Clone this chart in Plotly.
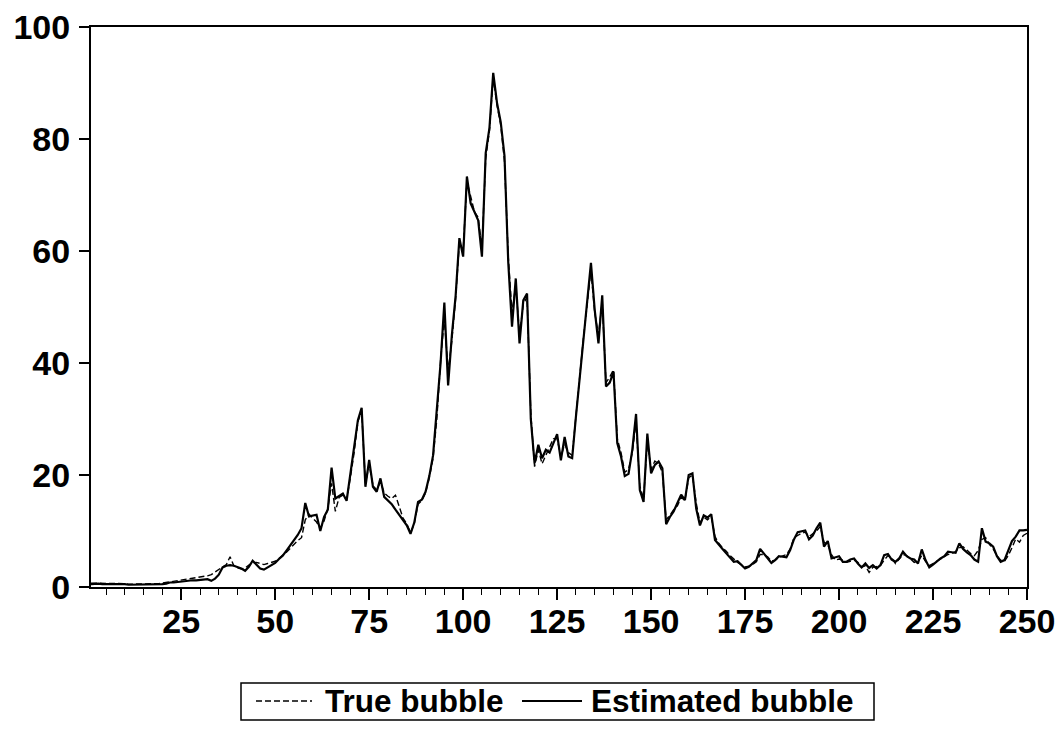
import plotly.graph_objects as go

periods = list(range(1, 251))

estimated_bubble = [
    0.5, 0.6, 0.6, 0.5, 0.5, 0.6, 0.6, 0.5, 0.5, 0.5,
    0.4, 0.4, 0.5, 0.4, 0.4, 0.5, 0.5, 0.4, 0.5, 0.5,
    0.6, 0.8, 0.8, 0.9, 1.0, 1.0, 1.1, 1.2, 1.2, 1.3,
    1.3, 1.4, 1.1, 1.5, 2.2, 3.5, 3.8, 3.9, 3.8, 3.6,
    3.3, 2.9, 3.6, 4.7, 4.0, 3.3, 3.1, 3.5, 3.8, 4.3,
    5.0, 5.6, 6.5, 7.4, 8.3, 9.3, 10.5, 15.0, 12.6, 12.8,
    12.9, 10.0, 12.5, 13.8, 21.3, 15.8, 16.2, 16.7, 15.4, 20.0,
    24.5, 29.8, 32.0, 17.9, 22.7, 17.9, 17.0, 19.4, 16.1, 15.5,
    14.8, 13.8, 12.8, 12.0, 11.0, 9.5, 11.5, 15.2, 15.6, 17.0,
    19.8, 23.5, 31.0, 40.0, 50.8, 36.0, 45.0, 52.0, 62.3, 59.0,
    73.3, 68.5, 67.0, 65.5, 59.0, 77.5, 82.0, 91.8, 86.5, 83.0,
    77.0, 58.0, 46.5, 55.1, 43.5, 51.2, 52.4, 30.0, 22.1, 25.4,
    23.0, 24.5, 24.0, 25.7, 27.3, 22.6, 26.8, 23.3, 23.0, 30.4,
    37.0, 44.0, 51.2, 57.9, 49.5, 43.5, 52.1, 35.8, 36.5, 38.4,
    25.7, 23.3, 19.8, 20.2, 24.5, 30.9, 17.3, 15.2, 27.4, 20.3,
    21.8, 22.4, 21.2, 11.2, 12.5, 13.5, 15.0, 16.5, 15.5, 20.0,
    20.3, 14.0, 11.0, 12.8, 12.4, 13.0, 8.4, 7.5, 6.8, 6.0,
    5.2, 4.5, 4.6, 4.0, 3.3, 3.6, 4.2, 4.8, 6.8, 6.0,
    5.2, 4.3, 4.8, 5.5, 5.4, 5.3, 6.6, 8.5, 9.8, 10.0,
    10.1, 8.5, 9.2, 10.5, 11.5, 7.2, 8.2, 5.1, 5.3, 5.5,
    4.5, 4.5, 4.9, 5.1, 4.2, 3.5, 4.2, 3.4, 3.9, 3.3,
    3.9, 5.7, 5.9, 4.9, 4.5, 5.1, 6.3, 5.5, 5.1, 4.9,
    4.2, 6.7, 4.8, 3.5, 4.0, 4.6, 5.1, 5.5, 6.3, 6.2,
    6.1, 7.8, 6.8, 6.2, 5.7, 4.9, 4.5, 10.5, 8.1, 7.8,
    7.2, 5.5, 4.5, 4.8, 6.6, 8.2, 9.0, 10.1, 10.1, 10.2,
]

true_bubble = [
    0.7, 0.7, 0.6, 0.6, 0.7, 0.7, 0.6, 0.6, 0.6, 0.6,
    0.5, 0.5, 0.6, 0.5, 0.5, 0.5, 0.6, 0.6, 0.6, 0.7,
    0.8, 1.0, 1.1, 1.2, 1.3, 1.4, 1.5, 1.6, 1.7, 1.8,
    1.9, 2.0, 2.2, 2.7, 3.2, 3.6, 4.0, 5.4, 3.8, 3.4,
    3.2, 3.4, 3.9, 4.3, 4.4, 4.2, 4.0, 4.2, 4.4, 4.6,
    5.1, 5.6, 6.2, 6.9, 7.6, 8.3, 8.8, 12.0, 13.0, 12.2,
    11.6, 10.5, 11.8, 14.0, 18.5, 13.5, 16.0, 16.4, 15.6, 19.5,
    24.0, 29.5, 31.5, 18.5, 21.8, 18.2, 17.3, 18.8, 16.8, 16.2,
    15.8, 16.4, 14.5, 12.3, 11.3, 9.7, 11.3, 14.8, 15.4, 16.8,
    19.5, 23.0, 30.0, 40.5, 48.0, 38.5, 44.0, 51.5, 61.5, 60.0,
    72.5, 69.5, 67.0, 66.0, 60.5, 76.5, 81.5, 91.0, 86.0, 82.5,
    76.0, 59.0, 49.0, 54.0, 45.0, 50.5, 51.8, 31.0, 21.5, 24.5,
    22.0, 23.5, 25.0, 26.5, 26.5, 23.2, 25.5, 24.0, 23.5, 31.0,
    37.5, 44.5, 50.5, 56.5, 49.0, 45.0, 51.0, 36.5, 37.5, 38.8,
    26.5, 24.0, 20.5, 21.0, 24.0, 29.5, 18.0, 15.8, 26.0, 21.0,
    22.5, 22.0, 20.5, 12.0, 12.8, 13.8, 14.5, 16.0, 15.5, 19.5,
    20.0, 15.0, 11.5, 12.5, 12.0, 12.6, 9.0, 7.8, 7.0, 6.4,
    5.6, 5.0, 4.4, 4.0, 3.6, 3.7, 4.0, 4.5, 5.8, 5.8,
    5.4, 4.6, 4.8, 5.3, 5.6, 5.8, 6.8, 8.8, 9.2, 9.6,
    9.8, 9.0, 9.5, 10.0, 10.8, 8.0, 7.6, 5.8, 4.8, 5.0,
    4.8, 4.4, 4.6, 4.8, 4.4, 3.6, 3.8, 2.6, 3.5, 3.6,
    3.8, 4.8, 5.6, 5.2, 4.2, 5.0, 5.8, 5.6, 5.0, 4.4,
    4.6, 5.6, 4.6, 3.8, 4.2, 4.6, 5.0, 5.4, 5.8, 6.0,
    6.3, 7.0, 7.2, 6.6, 6.0, 5.6, 6.5, 8.5, 8.8, 7.6,
    6.8, 5.6, 4.8, 4.6, 5.6, 7.0, 8.6, 8.0, 9.2, 9.6,
]

x_tick_vals = [25, 50, 75, 100, 125, 150, 175, 200, 225, 250]
y_tick_vals = [0, 20, 40, 60, 80, 100]
series_names = ["True bubble", "Estimated bubble"]

FONT = "Arial, Liberation Sans, sans-serif"
DASH = "6px,3px"

fig = go.Figure()
fig.add_trace(go.Scatter(
    x=periods, y=true_bubble, mode="lines", name=series_names[0],
    line=dict(color="black", width=1.4, dash=DASH),
))
fig.add_trace(go.Scatter(
    x=periods, y=estimated_bubble, mode="lines", name=series_names[1],
    line=dict(color="black", width=2.2),
))

tick_font = dict(family=FONT, size=34, color="black")

# Manual legend (paper coordinates; plot area spans x 91..1027, y 27..587 px)
def px_x(p):
    return (p - 91) / 936.0

def px_y(p):
    return (587 - p) / 560.0

shapes = [
    dict(type="rect", xref="paper", yref="paper",
         x0=px_x(241), x1=px_x(874), y0=px_y(720), y1=px_y(683),
         line=dict(color="black", width=1.5), fillcolor="white"),
    dict(type="line", xref="paper", yref="paper",
         x0=px_x(256), x1=px_x(312), y0=px_y(701), y1=px_y(701),
         line=dict(color="black", width=1.4, dash=DASH)),
    dict(type="line", xref="paper", yref="paper",
         x0=px_x(522), x1=px_x(582), y0=px_y(701), y1=px_y(701),
         line=dict(color="black", width=2)),
]
annotations = [
    dict(xref="paper", yref="paper", x=px_x(323), y=px_y(701),
         xanchor="left", yanchor="middle", showarrow=False,
         text=f"<b>{series_names[0]}</b>", font=dict(family=FONT, size=31.5, color="black")),
    dict(xref="paper", yref="paper", x=px_x(589), y=px_y(701),
         xanchor="left", yanchor="middle", showarrow=False,
         text=f"<b>{series_names[1]}</b>", font=dict(family=FONT, size=31.5, color="black")),
]

fig.update_layout(
    width=1063, height=731,
    margin=dict(l=91, r=36, t=27, b=144, autoexpand=False),
    paper_bgcolor="white", plot_bgcolor="white",
    showlegend=False,
    shapes=shapes,
    annotations=annotations,
    font=dict(family=FONT, color="black"),
)

fig.update_xaxes(
    range=[1, 250],
    tickmode="array", tickvals=x_tick_vals,
    ticktext=[f"<b>{v}</b>" for v in x_tick_vals],
    ticks="outside", ticklen=11, tickwidth=1.5, tickcolor="black",
    minor=dict(dtick=5, tick0=0, ticks="outside", ticklen=6, tickwidth=1.2, tickcolor="black"),
    showline=True, linecolor="black", linewidth=2, mirror=True,
    showgrid=False, zeroline=False,
    tickfont=tick_font,
    ticklabelstandoff=-8,
)
fig.update_yaxes(
    range=[0, 100],
    tickmode="array", tickvals=y_tick_vals,
    ticktext=[f"<b>{v}</b>" for v in y_tick_vals],
    ticks="outside", ticklen=10, tickwidth=1.5, tickcolor="black",
    showline=True, linecolor="black", linewidth=2, mirror=True,
    showgrid=False, zeroline=False,
    tickfont=tick_font,
    ticklabelstandoff=2,
)

fig.write_html("out.html")
